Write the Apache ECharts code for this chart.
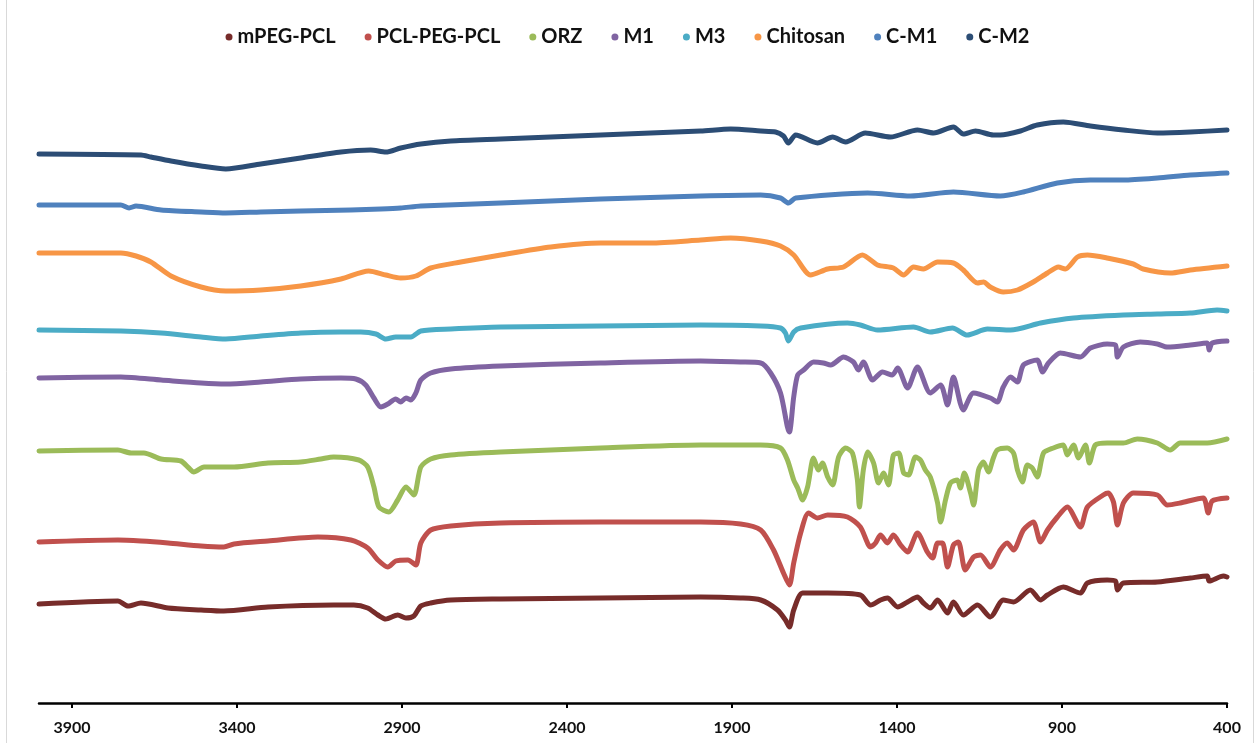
<!DOCTYPE html>
<html>
<head>
<meta charset="utf-8">
<title>FTIR spectra</title>
<script src="https://cdn.jsdelivr.net/npm/echarts@6/dist/echarts.min.js"></script>
<style>
  html, body { margin: 0; padding: 0; background: #ffffff; }
  #chart { width: 1255px; height: 743px; }
</style>
</head>
<body>
<div id="chart"></div>
<script>
// Wavenumber tick labels (cm-1), shown right-to-left
const tickLabels = [3900, 3400, 2900, 2400, 1900, 1400, 900, 400];

// Spectra as [wavenumber, stacked transmittance (a.u.)]
const mPEG_PCL = [
  [4000, 99], [3761, 102], [3730, 97], [3691, 100], [3609, 95], [3509, 93], [3440, 92],
  [3306, 96], [3107, 98], [3046, 98], [3004, 95], [2973, 88], [2949, 84], [2913, 88],
  [2888, 85], [2864, 87], [2843, 97], [2813, 100], [2752, 103], [2601, 104], [2298, 105],
  [1995, 106], [1874, 105], [1813, 103], [1762, 93], [1738, 83], [1726, 76], [1713, 93],
  [1686, 110], [1610, 110], [1511, 108], [1480, 98], [1450, 103], [1429, 105], [1398, 96],
  [1368, 101], [1338, 106], [1320, 100], [1299, 95], [1277, 103], [1247, 90], [1229, 101],
  [1199, 88], [1156, 98], [1117, 86], [1078, 103], [1047, 101], [996, 113], [965, 103],
  [944, 108], [896, 116], [844, 110], [823, 120], [763, 123], [738, 122], [732, 113],
  [714, 120], [611, 121], [511, 125], [460, 127], [454, 122], [411, 127], [400, 126]
];

const PCL_PEG_PCL = [
  [4000, 161], [3761, 163], [3691, 162], [3609, 160], [3509, 157], [3440, 156], [3409, 159],
  [3306, 162], [3155, 166], [3055, 163], [3004, 155], [2973, 143], [2943, 136], [2919, 142],
  [2882, 143], [2858, 138], [2843, 160], [2813, 173], [2752, 177], [2601, 180], [2298, 181],
  [1995, 181], [1874, 179], [1813, 173], [1774, 153], [1744, 130], [1726, 118], [1713, 140],
  [1692, 170], [1668, 190], [1641, 185], [1610, 188], [1550, 186], [1511, 176], [1480, 156],
  [1465, 160], [1450, 168], [1429, 160], [1411, 168], [1389, 158], [1368, 151], [1338, 170],
  [1308, 151], [1292, 145], [1277, 160], [1262, 160], [1247, 136], [1229, 158], [1214, 161],
  [1193, 133], [1168, 146], [1147, 148], [1117, 136], [1087, 153], [1066, 160], [1047, 153],
  [1017, 173], [987, 181], [965, 161], [944, 173], [914, 186], [884, 196], [844, 176],
  [823, 196], [775, 208], [760, 210], [744, 201], [732, 178], [714, 200], [684, 210],
  [611, 208], [581, 198], [542, 200], [472, 205], [457, 190], [445, 202], [400, 205]
];

const ORZ = [
  [4000, 252], [3761, 253], [3721, 250], [3682, 250], [3630, 244], [3570, 242], [3546, 235],
  [3531, 231], [3500, 236], [3409, 236], [3306, 240], [3207, 241], [3146, 244], [3107, 246],
  [3031, 243], [3004, 236], [2985, 216], [2970, 196], [2940, 191], [2913, 203], [2888, 216],
  [2864, 208], [2843, 236], [2813, 244], [2752, 248], [2601, 251], [2298, 255], [1995, 258],
  [1813, 258], [1753, 255], [1732, 243], [1713, 223], [1701, 215], [1686, 203], [1671, 216],
  [1653, 245], [1638, 233], [1626, 240], [1610, 226], [1595, 218], [1577, 246], [1556, 255],
  [1535, 250], [1520, 223], [1514, 196], [1502, 233], [1489, 251], [1471, 240], [1456, 220],
  [1441, 230], [1426, 218], [1411, 248], [1395, 250], [1380, 230], [1365, 228], [1344, 246],
  [1329, 243], [1314, 233], [1299, 226], [1277, 200], [1268, 181], [1253, 203], [1238, 220],
  [1217, 223], [1208, 215], [1196, 230], [1177, 210], [1168, 198], [1153, 233], [1138, 241],
  [1123, 231], [1108, 245], [1096, 253], [1066, 255], [1047, 250], [1035, 233], [1020, 221],
  [1005, 238], [990, 235], [975, 226], [956, 250], [926, 255], [896, 258], [884, 248],
  [865, 258], [850, 245], [829, 258], [817, 240], [799, 258], [763, 260], [714, 260],
  [672, 264], [611, 260], [572, 253], [542, 260], [460, 260], [400, 264]
];

const M1 = [
  [4000, 325], [3752, 326], [3630, 323], [3509, 320], [3434, 319], [3328, 321], [3207, 324],
  [3085, 325], [3040, 324], [3010, 318], [2985, 305], [2964, 296], [2943, 299], [2919, 304],
  [2904, 301], [2888, 305], [2873, 303], [2858, 310], [2843, 323], [2813, 330], [2752, 334],
  [2601, 337], [2298, 340], [1995, 342], [1874, 341], [1813, 340], [1783, 330], [1753, 310],
  [1732, 276], [1726, 271], [1713, 306], [1701, 328], [1683, 333], [1653, 341], [1623, 340],
  [1601, 338], [1562, 346], [1532, 341], [1517, 333], [1502, 341], [1474, 323], [1444, 331],
  [1414, 328], [1398, 335], [1368, 315], [1338, 336], [1299, 310], [1268, 318], [1247, 298],
  [1229, 326], [1199, 293], [1168, 310], [1117, 305], [1096, 301], [1078, 316], [1056, 326],
  [1035, 321], [1017, 338], [975, 343], [959, 331], [941, 340], [905, 350], [844, 346],
  [814, 355], [763, 359], [738, 358], [732, 346], [714, 356], [663, 361], [611, 359],
  [581, 356], [511, 358], [460, 360], [454, 353], [445, 360], [400, 362]
];

const M3 = [
  [4000, 373], [3752, 372], [3630, 370], [3509, 366], [3434, 364], [3328, 367], [3207, 370],
  [3085, 371], [3025, 371], [2979, 369], [2949, 364], [2919, 366], [2873, 366], [2843, 372],
  [2752, 374], [2601, 376], [2298, 377], [1995, 378], [1813, 377], [1753, 375], [1738, 370],
  [1729, 362], [1713, 371], [1692, 375], [1550, 380], [1511, 378], [1459, 373], [1350, 376],
  [1299, 371], [1232, 375], [1187, 368], [1126, 374], [1056, 373], [965, 380], [865, 385],
  [714, 388], [611, 389], [511, 390], [430, 393], [400, 392]
];

const Chitosan = [
  [4000, 450], [3752, 450], [3706, 447], [3661, 441], [3600, 427], [3509, 416], [3434, 412],
  [3328, 413], [3207, 417], [3085, 424], [3001, 432], [2949, 428], [2904, 425], [2858, 427],
  [2813, 435], [2722, 441], [2601, 448], [2449, 456], [2298, 460], [2147, 460], [1995, 463],
  [1904, 465], [1813, 462], [1753, 457], [1713, 448], [1662, 428], [1610, 434], [1562, 436],
  [1505, 448], [1459, 438], [1411, 435], [1380, 428], [1350, 436], [1320, 434], [1277, 441],
  [1229, 440], [1199, 433], [1156, 420], [1138, 421], [1117, 416], [1078, 411], [1035, 413],
  [987, 421], [944, 430], [911, 436], [890, 434], [853, 446], [823, 448], [763, 445],
  [684, 439], [654, 434], [572, 430], [511, 433], [400, 437]
];

const C_M1 = [
  [4000, 498], [3752, 498], [3727, 495], [3706, 497], [3630, 493], [3509, 491], [3434, 490],
  [3328, 491], [3207, 492], [3055, 493], [2964, 494], [2904, 495], [2843, 497], [2601, 500],
  [2298, 504], [1995, 507], [1813, 508], [1753, 505], [1729, 500], [1707, 505], [1489, 510],
  [1359, 507], [1229, 511], [1087, 507], [1017, 511], [914, 520], [814, 523], [714, 523],
  [611, 525], [511, 528], [400, 530]
];

const C_M2 = [
  [4000, 549], [3691, 548], [3661, 546], [3600, 542], [3509, 537], [3434, 534], [3328, 539],
  [3207, 545], [3085, 551], [2995, 553], [2949, 551], [2904, 555], [2843, 559], [2752, 562],
  [2601, 564], [2298, 568], [1995, 572], [1904, 574], [1813, 572], [1768, 571], [1744, 567],
  [1729, 560], [1707, 568], [1641, 560], [1595, 566], [1556, 561], [1496, 570], [1420, 566],
  [1338, 573], [1289, 570], [1229, 576], [1199, 569], [1162, 572], [1108, 568], [1087, 568],
  [1026, 572], [975, 578], [896, 581], [814, 577], [714, 573], [611, 570], [511, 571],
  [400, 573]
];

const seriesNames = ['mPEG-PCL', 'PCL-PEG-PCL', 'ORZ', 'M1', 'M3', 'Chitosan', 'C-M1', 'C-M2'];
const seriesData = [mPEG_PCL, PCL_PEG_PCL, ORZ, M1, M3, Chitosan, C_M1, C_M2];
const seriesColors = ['#772C2A', '#C0504D', '#9BBB59', '#8064A2', '#4BACC6', '#F79646', '#4F81BD', '#2C4D75'];

const chart = echarts.init(document.getElementById('chart'), null, { renderer: 'canvas' });

const FONT = 'Lato, "Open Sans", "Liberation Sans", sans-serif';

chart.setOption({
  animation: false,
  backgroundColor: '#ffffff',
  legend: {
    top: 22,
    left: 'center',
    icon: 'circle',
    itemWidth: 7,
    itemHeight: 7,
    itemGap: 29,
    textStyle: { fontFamily: FONT, fontSize: 20, fontWeight: 'bold', color: '#111111' },
    data: seriesNames
  },
  grid: { left: 39, right: 28, top: 63, bottom: 40, containLabel: false },
  xAxis: {
    type: 'value',
    inverse: true,
    min: 400,
    max: 4000,
    splitLine: { show: false },
    axisLine: { show: true, lineStyle: { color: '#000000', width: 2.5 } },
    axisTick: {
      show: true, inside: false, length: 5,
      lineStyle: { color: '#000000', width: 2 },
      customValues: tickLabels
    },
    axisLabel: {
      margin: 17,
      fontFamily: FONT, fontSize: 16, fontWeight: 'bold', color: '#111111',
      customValues: tickLabels,
      formatter: (v) => String(v)
    }
  },
  yAxis: {
    type: 'value',
    min: 0,
    max: 640,
    show: false,
    splitLine: { show: false }
  },
  graphic: [
    { type: 'line', shape: { x1: 6.5, y1: 0, x2: 6.5, y2: 743 }, style: { stroke: '#d9d9d9', lineWidth: 1 } },
    { type: 'line', shape: { x1: 1253.5, y1: 0, x2: 1253.5, y2: 743 }, style: { stroke: '#d9d9d9', lineWidth: 1 } }
  ],
  series: seriesNames.map((name, i) => ({
    name,
    type: 'line',
    data: seriesData[i],
    showSymbol: false,
    symbol: 'circle',
    smooth: 0.25,
    color: seriesColors[i],
    lineStyle: { width: 5, color: seriesColors[i], cap: 'round', join: 'round' }
  }))
});
</script>
</body>
</html>
